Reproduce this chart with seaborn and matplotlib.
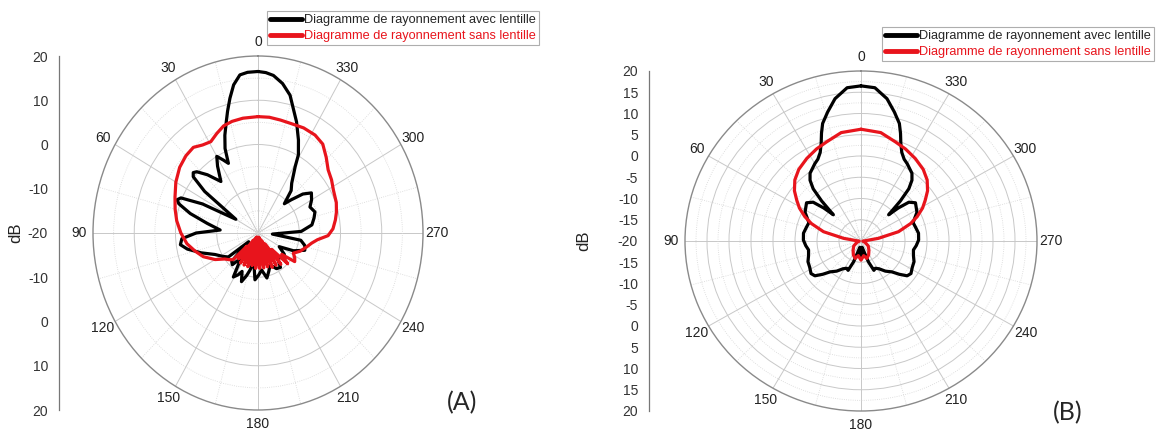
import numpy as np
import pandas as pd
import seaborn as sns
import matplotlib.pyplot as plt

sns.set_theme(style="white")
plt.rcParams["font.family"] = ["Liberation Sans", "DejaVu Sans"]

# angles in degrees, counter-clockwise from the top (0 = top, 90 = left)
# gains in dB

# (A) avec lentille
a_avec_deg = [0, 4, 7, 10, 12.6, 15, 17, 20, 22.7, 24.5, 27, 30, 33, 37.7, 43, 47, 49, 51, 54, 60,
              64, 67, 69, 71, 75, 80, 85.8, 90, 94, 98, 102, 108, 115, 122, 127, 131, 135, 139,
              144, 149, 153, 156, 160, 164, 167, 171, 176, 181, 186, 192, 197, 202, 209,
              215, 221, 227, 233, 239, 245, 251, 256, 261, 266, 272, 278, 284, 289, 295,
              300, 305, 309, 313, 316, 320, 324, 329, 331, 335, 339.6, 346, 350, 354, 357, 360]
a_avec_db = [16.5, 16.4, 16.0, 14.0, 11.2, 8.5, 6.3, 3.5, 0.7, -2.7, -1.5, 0.0, -2.0, -5.3, -2.0,
             0.3, 0.8, 0.2, -4.0, -13.8, -5.0, 0.3, 1.0, 0.3, -3.0, -7.5, -10.8, -5.0, -1.5, -1.0,
             -2.5, -5.5, -8.5, -10.0, -11.0, -17.0, -11.0, -10.5, -13.0, -8.4, -9.4, -10.5, -8.3,
             -10.0, -11.4, -13.5, -9.4, -10.5, -11.6, -9.6, -11.0, -12.2, -10.8, -10.5, -13.0,
             -11.5, -12.0, -14.0, -10.5, -8.0, -8.3, -9.5, -16.5, -9.5, -6.8, -6.0, -5.4, -6.1,
             -5.0, -4.2, -6.0, -9.0, -10.8, -7.5, -6.1, -2.5, 0.2, 3.2, 6.8, 12.1, 14.3, 15.8,
             16.3, 16.5]

# (A) sans lentille
a_sans_deg = [0, 8, 14, 19, 24, 29, 34, 39, 45, 52, 60, 68, 75, 82, 90, 98, 105, 112, 120, 126,
              131, 135, 138, 141, 145, 148, 152, 155, 159, 162, 166, 169, 173, 176, 180, 183,
              187, 190, 194, 197, 201, 204, 208, 211, 215, 218, 222, 226, 230, 234, 238, 242,
              248, 255, 260, 264, 268, 273, 279, 284, 290, 298, 304, 310, 316, 322, 328, 335,
              342, 348, 354, 360]
a_sans_db = [6.3, 6.2, 6.0, 5.6, 4.6, 3.6, 4.0, 4.9, 4.7, 4.1, 3.0, 1.7, 0.8, -0.1, -1.3, -2.6,
             -4.2, -5.7, -8.0, -10.0, -10.8, -11.5, -16.0, -12.5, -18.0, -12.0, -18.5, -12.0,
             -19.0, -12.0, -19.0, -12.5, -19.0, -12.0, -19.0, -12.0, -19.0, -12.0, -19.0,
             -12.0, -18.5, -11.5, -18.0, -11.5, -17.0, -11.0, -15.0, -10.0, -12.5, -9.0, -9.5,
             -10.3, -9.0, -7.8, -6.8, -5.5, -3.0, -1.8, -1.0, -0.4, 0.2, 0.7, 1.5, 2.2, 3.8,
             5.5, 6.1, 6.2, 6.0, 6.1, 6.3, 6.3]

# (B) avec lentille
b_avec_deg = [0, 5, 10, 14, 17.5, 19.5, 21.5, 24, 27, 30, 33, 36, 39, 41.5, 43.5, 45.5, 47.5,
              50, 54, 58, 62, 66, 70, 75, 82, 89, 95, 100, 106, 112, 118, 124, 128, 132, 136,
              142, 148, 153, 157, 161, 165, 170, 175, 180, 185, 190, 195, 199, 203, 207, 212,
              218, 224, 228, 232, 236, 242, 248, 254, 260, 265, 271, 278, 285, 290, 294, 298,
              302, 306, 310, 312.5, 314.5, 316.5, 318.5, 321, 324, 327, 330, 333, 336, 338.5,
              340.5, 342.5, 346, 350, 355, 360]
b_avec_db = [16.5, 16.2, 14.0, 11.3, 9.0, 6.9, 4.7, 2.8, 1.6, 1.0, 0.3, -0.3, -1.6, -3.6, -7.0,
             -11.2, -8.5, -5.8, -4.7, -5.2, -5.6, -6.6, -7.4, -7.2, -6.8, -6.9, -7.4, -7.9,
             -7.6, -7.0, -6.8, -6.3, -6.7, -8.3, -9.9, -11.0, -12.3, -12.8, -12.5, -14.8,
             -17.5, -18.5, -17.0, -16.3, -17.0, -18.5, -17.5, -14.8, -12.5, -12.8, -12.3,
             -11.0, -9.9, -8.3, -6.7, -6.3, -6.8, -7.0, -7.6, -7.9, -7.4, -6.9, -6.8, -7.2,
             -7.4, -6.6, -5.6, -5.2, -4.7, -5.8, -8.5, -11.2, -7.0, -3.6, -1.6, -0.3, 0.3, 1.0,
             1.6, 2.8, 4.7, 6.9, 9.0, 11.3, 14.0, 16.2, 16.5]

# (B) sans lentille
b_sans_deg = [0, 10, 18.5, 25, 32.4, 40, 46.3, 52, 56.6, 61, 65.8, 70, 75.6, 81, 86, 95, 110, 125,
              140, 152, 162, 170, 180, 190, 198, 208, 220, 235, 250, 265, 274, 279, 284.4, 290,
              294.2, 299, 303.4, 308, 313.7, 320, 327.6, 335, 341.5, 350, 360]
b_sans_db = [6.3, 5.9, 4.6, 3.9, 3.0, 2.0, 0.8, -0.8, -2.5, -4.0, -6.0, -8.0, -11.2, -16.0, -19.0,
             -19.6, -19.0, -18.0, -17.2, -16.3, -15.7, -16.5, -15.5, -16.5, -15.7, -16.3, -17.2,
             -18.0, -19.0, -19.6, -19.0, -16.0, -11.2, -8.0, -6.0, -4.0, -2.5, -0.8, 0.8, 2.0,
             3.0, 3.9, 4.6, 5.9, 6.3]

angle_ticks = [0, 30, 60, 90, 120, 150, 180, 210, 240, 270, 300, 330]
angle_labels = ["0", "30", "60", "90", "120", "150", "180", "210", "240", "270", "300", "330"]
label_avec = "Diagramme de rayonnement avec lentille"
label_sans = "Diagramme de rayonnement sans lentille"

W, H = 1156, 432
fig = plt.figure(figsize=(W / 100, H / 100), dpi=100)


def px(left, top, width, height):
    return [left / W, 1 - (top + height) / H, width / W, height / H]


def polar_panel(rect, avec, sans, rings, rings_minor):
    ax = fig.add_axes(rect, projection="polar")
    for (deg, db), col, lab in [(avec, "black", label_avec), (sans, "#e8141c", label_sans)]:
        df = pd.DataFrame({"theta": np.deg2rad(deg), "gain": db})
        sns.lineplot(data=df, x="theta", y="gain", sort=False, estimator=None, ax=ax,
                     color=col, linewidth=2.3, label=lab)
    ax.set_theta_zero_location("N")
    ax.set_theta_direction(1)
    ax.set_ylim(-20, 20)
    ax.set_aspect("auto")
    ax.set_xlabel("")
    ax.set_ylabel("")
    ax.set_xticks(np.deg2rad(angle_ticks))
    ax.set_xticklabels(angle_labels)
    ax.set_xticks(np.deg2rad(np.array(angle_ticks) + 15), minor=True)
    ax.set_yticks(rings)
    ax.set_yticks(rings_minor, minor=True)
    ax.set_yticklabels([])
    ax.grid(True, which="major", color="#c8c8c8", linewidth=0.7, linestyle="-")
    ax.grid(True, which="minor", color="#d6d6d6", linewidth=0.6, linestyle=":")
    ax.spines["polar"].set_color("#8a8a8a")
    ax.spines["polar"].set_linewidth(1.0)
    ax.tick_params(axis="x", which="major", pad=3, labelsize=10, labelcolor="#222222",
                   direction="in", length=5, color="#8a8a8a")
    ax.tick_params(axis="x", which="minor", direction="in", length=3, color="#8a8a8a")
    ax.tick_params(axis="y", which="both", length=0)
    ax.get_legend().remove()
    return ax


def db_axis(rect, major, labels, minor):
    ax = fig.add_axes(rect)
    ax.set_ylim(-40, 40)
    ax.set_xticks([])
    for s in ["top", "right", "bottom"]:
        ax.spines[s].set_visible(False)
    ax.spines["left"].set_color("#777777")
    ax.spines["left"].set_linewidth(0.9)
    ax.set_yticks(major)
    ax.set_yticklabels(labels)
    ax.set_yticks(minor, minor=True)
    ax.tick_params(axis="y", which="major", length=5, width=0.8, color="#777777",
                   labelsize=10, labelcolor="#333333", pad=3)
    ax.tick_params(axis="y", which="minor", length=3, width=0.7, color="#777777")
    ax.patch.set_alpha(0)
    return ax


def add_legend(ax, left, top):
    h, l = ax.get_legend_handles_labels()
    leg = ax.legend(h, l, loc="upper left", bbox_to_anchor=(left / W, 1 - top / H),
                    bbox_transform=fig.transFigure, frameon=True, fancybox=False,
                    edgecolor="#9a9a9a", fontsize=9.2, handlelength=2.5, handletextpad=0.15,
                    borderpad=0.25, labelspacing=0.3, borderaxespad=0)
    leg.get_frame().set_linewidth(0.8)
    for line in leg.get_lines():
        line.set_linewidth(3.5)
    leg.get_texts()[1].set_color("#e8141c")


# panel (A)
axA = polar_panel(px(93, 56, 330, 354), (a_avec_deg, a_avec_db), (a_sans_deg, a_sans_db),
                  [-10, 0, 10], [-15, -5, 5, 15])
db_axis(px(59, 56, 1, 354), list(range(-40, 41, 10)),
        ["20", "10", "0", "-10", "-20", "-10", "0", "10", "20"], list(range(-35, 40, 10)))
add_legend(axA, 267, 11)
fig.text(16 / W, 1 - 233 / H, "dB", rotation=90, ha="center", va="center", fontsize=12,
         color="#222222")
fig.text(462 / W, 1 - 403 / H, "(A)", ha="center", va="center", fontsize=18,
         family=["Lato", "DejaVu Sans"])

# panel (B)
axB = polar_panel(px(685, 71, 352, 340), (b_avec_deg, b_avec_db), (b_sans_deg, b_sans_db),
                  [-15, -10, -5, 0, 5, 10, 15], [-17.5, -12.5, -7.5, -2.5, 2.5, 7.5, 12.5, 17.5])
db_axis(px(649, 71, 1, 340), list(range(-40, 41, 5)),
        ["20", "15", "10", "5", "0", "-5", "-10", "-15", "-20", "-15", "-10", "-5", "0", "5",
         "10", "15", "20"], [v for v in range(-40, 41) if v % 5 != 0])
add_legend(axB, 882, 27)
fig.text(584 / W, 1 - 241 / H, "dB", rotation=90, ha="center", va="center", fontsize=12,
         color="#222222")
fig.text(1068 / W, 1 - 413 / H, "(B)", ha="center", va="center", fontsize=18,
         family=["Lato", "DejaVu Sans"])

fig.savefig("out.png", dpi=100, facecolor="white")
